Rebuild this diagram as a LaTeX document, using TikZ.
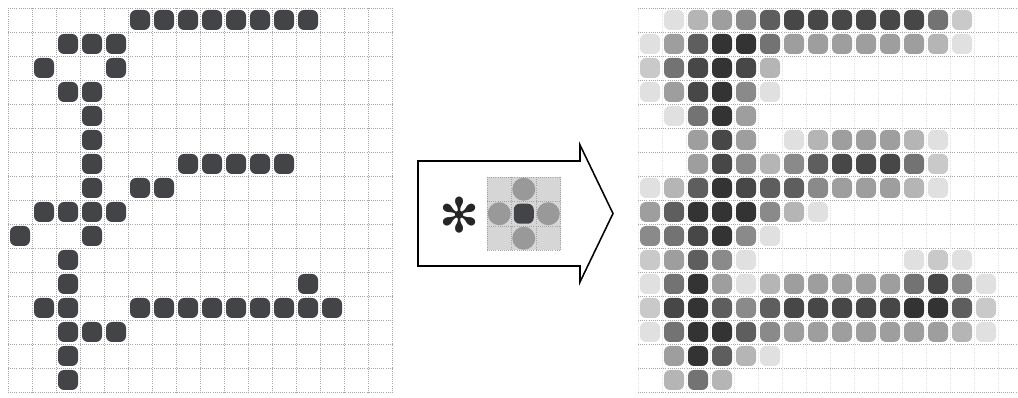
\documentclass[tikz,border=0pt]{standalone}
\usepackage{fontspec}
\newfontfamily\symfont{DejaVu Sans}
\begin{document}
\begin{tikzpicture}[x=0.025cm, y=-0.025cm,
  gridline/.style={gray!70, densely dotted, line width=0.5pt},
  faintline/.style={gray!25, densely dotted, line width=0.5pt},
  pixel/.style={rounded corners=0.15cm}]
\definecolor{pixdark}{RGB}{66,68,72}
\useasboundingbox (0,0) rectangle (1018,398);
% input grid
\foreach \k in {0,...,16} {
  \draw[gridline] (8+24*\k,8) -- (8+24*\k,392);
  \draw[gridline] (8,8+24*\k) -- (392,8+24*\k);
}
\foreach \py/\cols in {0/{5,6,7,8,9,10,11,12}, 1/{2,3,4}, 2/{1,4}, 3/{2,3}, 4/{3}, 5/{3},
    6/{3,7,8,9,10,11}, 7/{3,5,6}, 8/{1,2,3,4}, 9/{0,3}, 10/{2}, 11/{2,12},
    12/{1,2,5,6,7,8,9,10,11,12,13}, 13/{2,3,4}, 14/{2}, 15/{2}} {
  \foreach \px in \cols {
    \expandafter\gdef\csname pix\py-\px\endcsname{}
    \fill[pixel, pixdark] (10+24*\px,10+24*\py) rectangle (30+24*\px,30+24*\py);
  }
}
% arrow with kernel
\draw[line width=1.1pt, line join=miter] (418,161) -- (580,161) -- (580,145) -- (613,213.5)
  -- (580,282) -- (580,266) -- (418,266) -- cycle;
\node[scale=3.4, inner sep=0pt, black!85] (star) at (460,215) {\symfont ✻};
\begin{scope}[shift={(487,177)}]
\fill[black!16] (0,0) rectangle (73.5,73.5);
\foreach \k in {0,...,3} {
  \draw[gridline] (24.5*\k,0) -- (24.5*\k,73.5);
  \draw[gridline] (0,24.5*\k) -- (73.5,24.5*\k);
}
\foreach \cx/\cy in {1/0, 0/1, 2/1, 1/2}
  \fill[black!40] (24.5*\cx+12.25,24.5*\cy+12.25) circle[radius=11.5];
\fill[pixel, pixdark] (26.75,26.75) rectangle (46.75,46.75);
\end{scope}
% output grid
\begin{scope}
\clip (630,0) rectangle (1018,398);
\foreach \k in {0,...,16} {
  \draw[faintline] (638+24*\k,8) -- (638+24*\k,392);
  \draw[gridline] (638,8+24*\k) -- (1022,8+24*\k);
}
\foreach \py in {0,...,15} {
  \foreach \px in {0,...,15} {
    \gdef\pixsum{0}
    \foreach \dy/\dx/\w in {-1/-1/1, -1/0/2, -1/1/1, 0/-1/2, 0/0/4, 0/1/2, 1/-1/1, 1/0/2, 1/1/1} {
      \pgfmathtruncatemacro\ny{\py+\dy}
      \pgfmathtruncatemacro\nx{\px+\dx}
      \ifcsname pix\ny-\nx\endcsname
        \pgfmathtruncatemacro\newsum{\pixsum+\w}
        \global\let\pixsum\newsum
      \fi
    }
    \ifnum\pixsum>0
      \pgfmathtruncatemacro\tone{min(80,4+8.5*\pixsum)}
      \fill[pixel, black!\tone] (640+24*\px,10+24*\py) rectangle (660+24*\px,30+24*\py);
    \fi
  }
}
\end{scope}
\end{tikzpicture}
\end{document}
